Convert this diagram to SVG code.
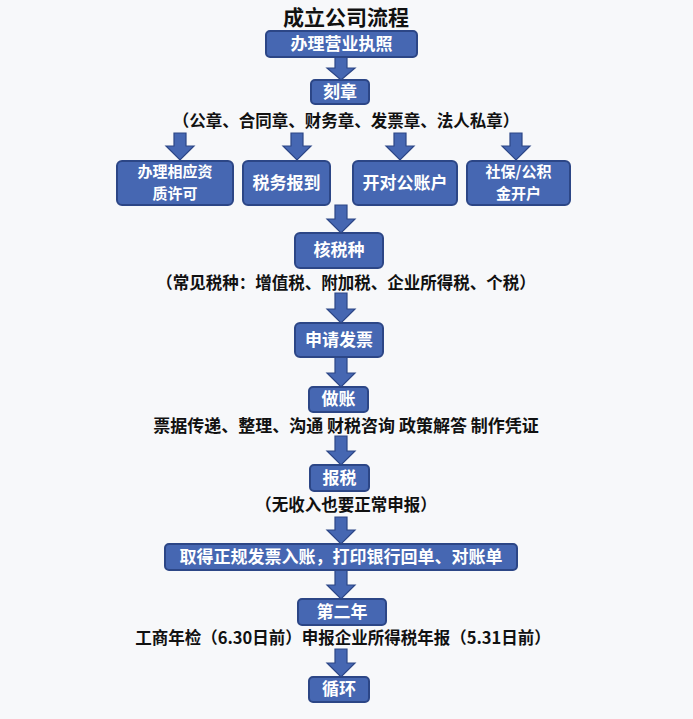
<svg xmlns="http://www.w3.org/2000/svg" width="693" height="719" viewBox="0 0 693 719">
<style>
.bg{fill:#f7f8fa}
.box{fill:#4667b2;stroke:#2c4686;stroke-width:2}
.bt{font-family:"Noto Sans CJK SC","Noto Sans",sans-serif;font-weight:bold;font-size:17px;fill:#ffffff;text-anchor:middle}
.bt2{font-family:"Noto Sans CJK SC","Noto Sans",sans-serif;font-weight:bold;font-size:15px;fill:#ffffff;text-anchor:middle}
.note{font-family:"Noto Sans CJK SC","Noto Sans",sans-serif;font-weight:bold;font-size:16.5px;fill:#111111;text-anchor:middle}
.title{font-family:"Noto Sans CJK SC","Noto Sans",sans-serif;font-weight:bold;font-size:21px;fill:#111111;text-anchor:middle}
.arr{fill:#4667b2;stroke:#2c4686;stroke-width:1.2;stroke-linejoin:miter}
</style>
<rect class="bg" x="0" y="0" width="693" height="719"/>
<text class="title" x="346" y="25">成立公司流程</text>

<g id="connectors">
<polygon class="arr" points="335,57 347,57 347,68 355,68 341,80 327,68 335,68"/>
<polygon class="arr" points="174,133 186,133 186,146 194,146 180,160 166,146 174,146"/>
<polygon class="arr" points="291,133 303,133 303,146 311,146 297,160 283,146 291,146"/>
<polygon class="arr" points="394,133 406,133 406,146 414,146 400,160 386,146 394,146"/>
<polygon class="arr" points="510,133 522,133 522,146 530,146 516,160 502,146 510,146"/>
<polygon class="arr" points="335,205 347,205 347,219 355,219 341,233 327,219 335,219"/>
<polygon class="arr" points="335,293 347,293 347,309 355,309 341,323 327,309 335,309"/>
<polygon class="arr" points="335,357 347,357 347,373 355,373 341,387 327,373 335,373"/>
<polygon class="arr" points="335,436 347,436 347,451 355,451 341,465 327,451 335,451"/>
<polygon class="arr" points="335,517 347,517 347,530 355,530 341,544 327,530 335,530"/>
<polygon class="arr" points="335,570 347,570 347,585 355,585 341,599 327,585 335,585"/>
<polygon class="arr" points="335,649 347,649 347,663 355,663 341,677 327,663 335,663"/>
</g>

<g id="n-license">
<rect class="box" x="266" y="31" width="151" height="26" rx="4"/>
<text class="bt" x="341.5" y="50">办理营业执照</text>
</g>
<g id="n-seal">
<rect class="box" x="311" y="80" width="58" height="24" rx="4"/>
<text class="bt" x="340" y="98">刻章</text>
</g>
<text class="note" x="346" y="127">（公章、合同章、财务章、发票章、法人私章）</text>

<g id="n-permit">
<rect class="box" x="117" y="161" width="116" height="44" rx="5"/>
<text class="bt2" x="175" y="177">办理相应资</text>
<text class="bt2" x="175" y="199">质许可</text>
</g>
<g id="n-taxreg">
<rect class="box" x="243" y="161" width="87" height="44" rx="5"/>
<text class="bt" x="286.5" y="189">税务报到</text>
</g>
<g id="n-bank">
<rect class="box" x="353" y="161" width="104" height="44" rx="5"/>
<text class="bt" x="405" y="189">开对公账户</text>
</g>
<g id="n-social">
<rect class="box" x="467" y="161" width="103" height="44" rx="5"/>
<text class="bt2" x="518.5" y="177">社保/公积</text>
<text class="bt2" x="518.5" y="199">金开户</text>
</g>

<g id="n-taxtype">
<rect class="box" x="295" y="233" width="88" height="35" rx="5"/>
<text class="bt" x="339" y="256">核税种</text>
</g>
<text class="note" x="346" y="289">（常见税种：增值税、附加税、企业所得税、个税）</text>

<g id="n-invoice">
<rect class="box" x="295" y="323" width="88" height="34" rx="5"/>
<text class="bt" x="339" y="346">申请发票</text>
</g>
<g id="n-books">
<rect class="box" x="309" y="387" width="59" height="25" rx="4"/>
<text class="bt" x="338.5" y="405">做账</text>
</g>
<text class="note" x="346" y="432" style="font-size:17px">票据传递、整理、沟通 财税咨询 政策解答 制作凭证</text>

<g id="n-filing">
<rect class="box" x="310" y="465" width="59" height="26" rx="4"/>
<text class="bt" x="339.5" y="484">报税</text>
</g>
<text class="note" x="346" y="511">（无收入也要正常申报）</text>

<g id="n-entry">
<rect class="box" x="165" y="544" width="352" height="26" rx="4"/>
<text class="bt" x="341" y="563">取得正规发票入账，打印银行回单、对账单</text>
</g>
<g id="n-year2">
<rect class="box" x="298" y="599" width="88" height="26" rx="4"/>
<text class="bt" x="342" y="618">第二年</text>
</g>
<text class="note" x="343" y="644">工商年检（6.30日前）申报企业所得税年报（5.31日前）</text>

<g id="n-loop">
<rect class="box" x="309" y="677" width="60" height="25" rx="4"/>
<text class="bt" x="339" y="695">循环</text>
</g>
</svg>
